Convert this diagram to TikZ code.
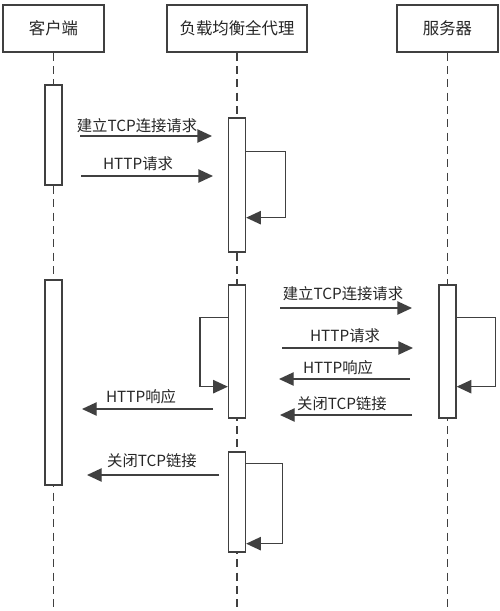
\documentclass[tikz,border=0pt]{standalone}
\usepackage{fontspec}
\setmainfont{Noto Sans CJK SC}
\usetikzlibrary{arrows.meta,calc}
\definecolor{ln}{HTML}{404040}
\begin{document}
\begin{tikzpicture}[x=0.75pt,y=-0.75pt,
  head/.style={draw=ln,line width=1.1pt,fill=white,minimum height=35.25pt,inner sep=0pt,font=\fontsize{12.3}{14}\selectfont,text=black!85},
  act/.style={draw=ln,line width=1pt,fill=white,minimum width=12.75pt,inner sep=0pt},
  life/.style={draw=ln,line width=1.1pt,dash pattern=on 6pt off 4pt},
  msg/.style={draw=ln,line width=1pt,-{Triangle[length=11pt,width=10pt]}},
  lbl/.style={font=\fontsize{11.5}{13}\selectfont,text=black!85,inner sep=0pt}]
\useasboundingbox (0,0) rectangle (500,611);
% headers
\node[head,minimum width=75.75pt] (c) at (53.5,28.5) {客户端};
\node[head,minimum width=105pt] (p) at (237,28.5) {负载均衡全代理};
\node[head,minimum width=75.75pt] (s) at (447.5,28.5) {服务器};
% lifeline ends
\coordinate (ce) at (53.5,611);
\coordinate (pe) at (237,611);
\coordinate (se) at (447.5,611);
\draw[life] (c.south) -- (ce);
\draw[life] (p.south) -- (pe);
\draw[life] (s.south) -- (se);
% activations
\node[act,minimum height=75pt] (ca1) at (53.5,135) {};
\node[act,minimum height=153.75pt] (ca2) at (53.5,382.5) {};
\node[act,minimum height=100.5pt] (pa1) at (237,185) {};
\node[act,minimum height=99.75pt] (pa2) at (237,351.5) {};
\node[act,minimum height=75pt] (pa3) at (237,502) {};
\node[act,minimum height=99.75pt] (sa) at (447.5,351.5) {};
% self loops
\draw[msg] ($(pa1.north east)+(0,34)$) -- ++(39.5,0) |- ($(pa1.south east)+(0,-35)$);
\draw[msg] ($(pa2.north west)+(0,33)$) -- ++(-28,0) |- ($(pa2.south west)+(0,-32)$);
\draw[msg] ($(sa.north east)+(0,33)$) -- ++(39,0) |- ($(sa.south east)+(0,-32)$);
\draw[msg] ($(pa3.north east)+(0,12)$) -- ++(36.5,0) |- ($(pa3.south east)+(0,-9)$);
% message endpoints
\coordinate (a1s) at (80,136);  \coordinate (a1e) at (212,136);
\coordinate (a2s) at (81,176);  \coordinate (a2e) at (213,176);
\coordinate (b1s) at (280,308); \coordinate (b1e) at (412,308);
\coordinate (b2s) at (282,348); \coordinate (b2e) at (413,348);
\coordinate (b3s) at (410,379); \coordinate (b3e) at (279,379);
\coordinate (b4s) at (412,415); \coordinate (b4e) at (280,415);
\coordinate (a3s) at (213,409); \coordinate (a3e) at (82,409);
\coordinate (a4s) at (219,475); \coordinate (a4e) at (87,475);
\draw[msg] (a1s) -- (a1e);
\draw[msg] (a2s) -- (a2e);
\draw[msg] (b1s) -- (b1e);
\draw[msg] (b2s) -- (b2e);
\draw[msg] (b3s) -- (b3e);
\draw[msg] (b4s) -- (b4e);
\draw[msg] (a3s) -- (a3e);
\draw[msg] (a4s) -- (a4e);
% labels
\node[lbl] (l1) at (137,126) {建立TCP连接请求};
\node[lbl] (l2) at (138,164) {HTTP请求};
\node[lbl] (l3) at (343,294) {建立TCP连接请求};
\node[lbl] (l4) at (345,336) {HTTP请求};
\node[lbl] (l5) at (338,368) {HTTP响应};
\node[lbl] (l6) at (342,404) {关闭TCP链接};
\node[lbl] (l7) at (141,397) {HTTP响应};
\node[lbl] (l8) at (152,461) {关闭TCP链接};
\end{tikzpicture}
\end{document}
